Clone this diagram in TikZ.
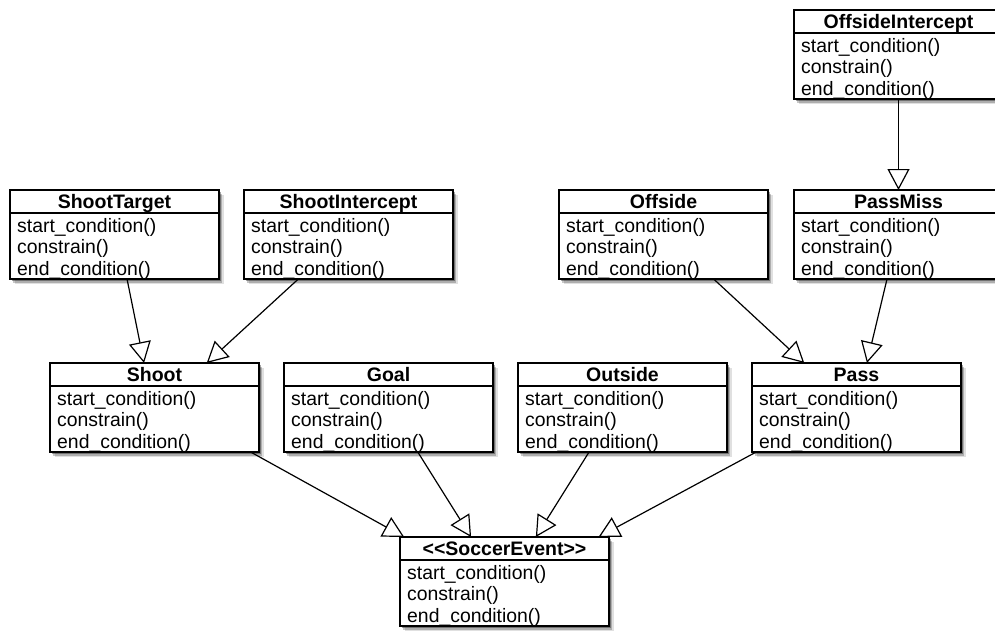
\documentclass[tikz,border=0pt]{standalone}
\usepackage{fontspec}
\setmainfont{Liberation Sans}
\usetikzlibrary{arrows.meta,calc,shadows}
\tikzset{
  umlbox/.style={draw, fill=white, line width=1.3pt, minimum width=209pt, minimum height=89pt,
    anchor=north west, inner sep=0pt, outer sep=0pt,
    drop shadow={shadow xshift=1.5pt, shadow yshift=-2pt, opacity=0.35, fill=black},
    drop shadow={shadow xshift=3pt, shadow yshift=-3.5pt, opacity=0.22, fill=black},
    drop shadow={shadow xshift=4.5pt, shadow yshift=-5pt, opacity=0.12, fill=black}},
  sepline/.style={line width=1.3pt},
  hdr/.style={font=\fontsize{19.5}{22}\selectfont\bfseries, anchor=base, inner sep=0pt},
  bodyline/.style={font=\fontsize{19.4}{22}\selectfont, anchor=base west, inner sep=0pt},
  inh/.style={line width=1.2pt, -{Triangle[length=21pt,width=22pt,fill=white,line join=miter]}}
}
\newcommand{\umlclass}[4]{%
  \node[umlbox] (#1) at (#2,#3) {};
  \draw[sepline] ([yshift=-23pt]#1.north west) -- ([yshift=-23pt]#1.north east);
  \node[hdr] (#1-h) at ([yshift=-18.5pt]#1.north) {#4};
  \node[bodyline] (#1-a) at ([xshift=7pt,yshift=-42pt]#1.north west) {start\_condition()};
  \node[bodyline] (#1-b) at ([xshift=7pt,yshift=-63.5pt]#1.north west) {constrain()};
  \node[bodyline] (#1-c) at ([xshift=7pt,yshift=-85pt]#1.north west) {end\_condition()};
}
\begin{document}
\begin{tikzpicture}[x=1pt,y=-1pt]
\fill[white] (0,0) rectangle (995,630);
\useasboundingbox (0,0) rectangle (995,630);

\umlclass{oi}{794}{10}{OffsideIntercept}
\umlclass{st}{10}{190}{ShootTarget}
\umlclass{si}{244}{190}{ShootIntercept}
\umlclass{off}{559}{190}{Offside}
\umlclass{pm}{794}{190}{PassMiss}
\umlclass{sh}{50}{363}{Shoot}
\umlclass{go}{284}{363}{Goal}
\umlclass{ou}{518}{363}{Outside}
\umlclass{pa}{752}{363}{Pass}
\umlclass{se}{400}{537}{<{}<SoccerEvent>{}>}

\draw[inh] (oi.south) -- (pm.north);
\draw[inh] ($(st.south west)!0.56!(st.south east)$) -- ($(sh.north west)!0.45!(sh.north east)$);
\draw[inh] ($(si.south west)!0.26!(si.south east)$) -- ($(sh.north west)!0.75!(sh.north east)$);
\draw[inh] ($(off.south west)!0.74!(off.south east)$) -- ($(pa.north west)!0.25!(pa.north east)$);
\draw[inh] ($(pm.south west)!0.445!(pm.south east)$) -- ($(pa.north west)!0.55!(pa.north east)$);
\draw[inh] ($(sh.south west)!0.96!(sh.south east)$) -- ($(se.north west)!0.02!(se.north east)$);
\draw[inh] ($(go.south west)!0.64!(go.south east)$) -- ($(se.north west)!0.34!(se.north east)$);
\draw[inh] ($(ou.south west)!0.34!(ou.south east)$) -- ($(se.north west)!0.65!(se.north east)$);
\draw[inh] ($(pa.south west)!0.02!(pa.south east)$) -- ($(se.north west)!0.95!(se.north east)$);
\end{tikzpicture}
\end{document}
